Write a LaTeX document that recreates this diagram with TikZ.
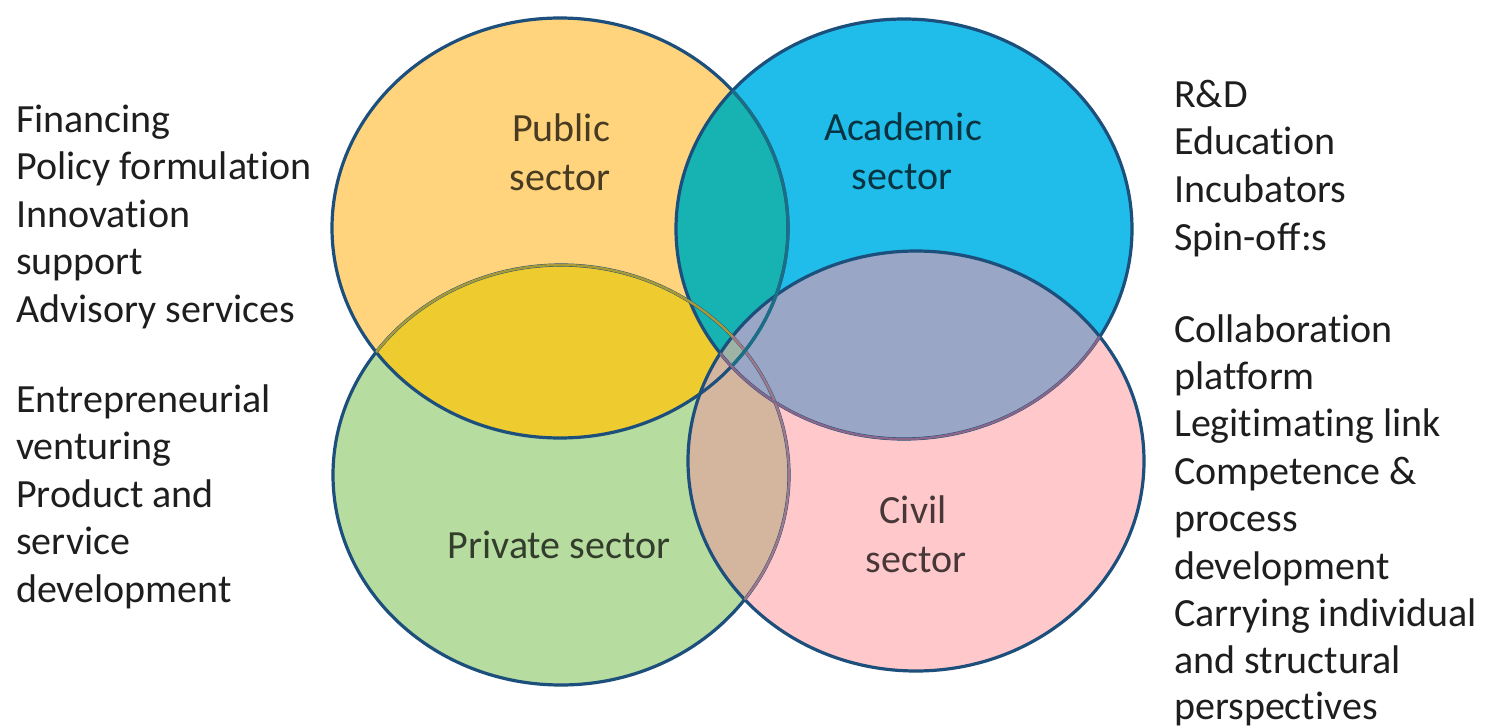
\documentclass[tikz,border=0pt]{standalone}
\usepackage{fontspec}
\setmainfont[Ligatures=NoCommon]{Carlito}
\definecolor{cY}{HTML}{FFD47C}
\definecolor{cB}{HTML}{20BDEA}
\definecolor{cG}{HTML}{B7DCA0}
\definecolor{cP}{HTML}{FFC9CB}
\definecolor{cYG}{HTML}{EECB2E}
\definecolor{cYB}{HTML}{16B3B2}
\definecolor{cBP}{HTML}{9AA6C6}
\definecolor{cGP}{HTML}{D4B59E}
\definecolor{cAll}{HTML}{9EB2A6}
\definecolor{edge}{HTML}{1D4F7C}
\definecolor{edgeGY}{HTML}{A99A38}
\definecolor{edgeGP}{HTML}{A07888}
\definecolor{edgeYB}{HTML}{1A6F86}
\definecolor{edgeBP}{HTML}{8A6688}
\definecolor{sidetext}{HTML}{1E1E1E}
\begin{document}
\begin{tikzpicture}[x=1pt,y=-1pt,
  eY/.style={insert path={(560,228) ellipse [x radius=228pt, y radius=210pt]}},
  eB/.style={insert path={(904,229) ellipse [x radius=228pt, y radius=210pt]}},
  eG/.style={insert path={(561,475) ellipse [x radius=228pt, y radius=210pt]}},
  eP/.style={insert path={(916,461) ellipse [x radius=228pt, y radius=210pt]}},
  outline/.style={draw=#1, line width=3.2pt},
  side/.style={anchor=base west, inner sep=0pt, text=sidetext, font=\fontsize{40}{47.5}\selectfont},
  lab/.style={anchor=base, inner sep=0pt, text=black, text opacity=0.72, font=\fontsize{40}{47.5}\selectfont}]
\useasboundingbox (0,0) rectangle (1494,728);
\fill[white] (0,0) rectangle (1494,728);
% base fills
\fill[cG, eG];
\fill[cY, eY];
\fill[cB, eB];
\fill[cP, eP];
% pairwise overlaps
\begin{scope}\path[clip, eY]; \fill[cYG, eG]; \end{scope}
\begin{scope}\path[clip, eY]; \fill[cYB, eB]; \end{scope}
\begin{scope}\path[clip, eG]; \fill[cGP, eP]; \end{scope}
\begin{scope}\path[clip, eB]; \fill[cBP, eP]; \end{scope}
% central region (all four)
\begin{scope}\path[clip, eY]; \path[clip, eG]; \path[clip, eB]; \fill[cAll, eP]; \end{scope}
% outlines
\path[outline=edge, eG];
\path[outline=edge, eY];
\path[outline=edge, eB];
\path[outline=edge, eP];
% tinted outline parts lying under upper layers
\begin{scope}\path[clip, eY]; \path[outline=edgeGY, line width=2.4pt, eG]; \end{scope}
\begin{scope}\path[clip, eP]; \path[outline=edgeGP, line width=2.4pt, eG]; \end{scope}
\begin{scope}\path[clip, eB]; \path[outline=edgeYB, eY]; \end{scope}
\begin{scope}\path[clip, eP]; \path[outline=edgeBP, line width=2.4pt, eB]; \end{scope}
% sector labels
\node[lab] (pub1) at (561,141) {Public};
\node[lab] (pub2) at (560,190) {sector};
\node[lab] (aca1) at (903,140) {Academic};
\node[lab] (aca2) at (902,189) {sector};
\node[lab] (pri) at (559,558) {Private sector};
\node[lab] (civ1) at (913,523) {Civil};
\node[lab] (civ2) at (916,572) {sector};
% left texts
\node[side] (l1) at (16,132) {Financing};
\node[side] (l2) at (16,179.5) {Policy formulation};
\node[side] (l3) at (16,227) {Innovation};
\node[side] (l4) at (16,274.5) {support};
\node[side] (l5) at (16,322) {Advisory services};
\node[side] (m1) at (16,412) {Entrepreneurial};
\node[side] (m2) at (16,459.5) {venturing};
\node[side] (m3) at (16,507) {Product and};
\node[side] (m4) at (16,554.5) {service};
\node[side] (m5) at (16,602) {development};
% right texts
\node[side] (r1) at (1174,107) {R\&D};
\node[side] (r2) at (1174,154.7) {Education};
\node[side] (r3) at (1174,202.4) {Incubators};
\node[side] (r4) at (1174,250.1) {Spin-off:s};
\node[side] (s1) at (1174,342) {Collaboration};
\node[side] (s2) at (1174,389.4) {platform};
\node[side] (s3) at (1174,436.8) {Legitimating link};
\node[side] (s4) at (1174,484.2) {Competence \&};
\node[side] (s5) at (1174,531.6) {process};
\node[side] (s6) at (1174,579) {development};
\node[side] (s7) at (1174,626.4) {Carrying individual};
\node[side] (s8) at (1174,673.8) {and structural};
\node[side] (s9) at (1174,719) {perspectives};
\end{tikzpicture}
\end{document}
